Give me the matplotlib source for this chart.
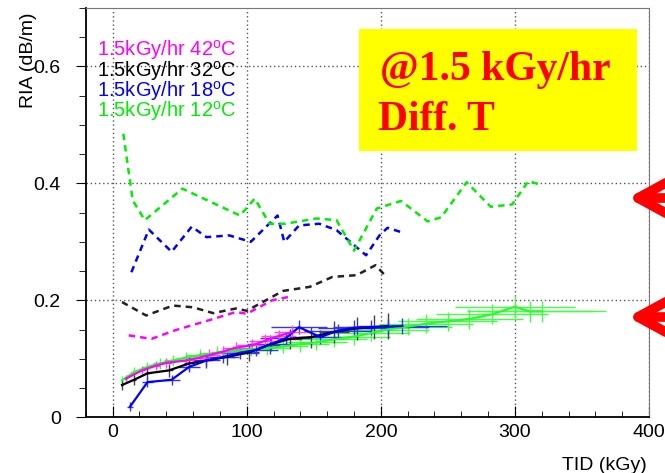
import numpy as np
import matplotlib
matplotlib.use('Agg')
import matplotlib.pyplot as plt
from matplotlib.patches import Rectangle

# dashed curves (no error bars)
x_42d = [12, 29, 47, 72, 92, 100, 119, 134]
y_42d = [0.140, 0.134, 0.149, 0.166, 0.180, 0.177, 0.200, 0.207]

x_32d = [7, 25, 45, 60, 75, 92, 100, 127, 147, 164, 182, 196, 203]
y_32d = [0.197, 0.174, 0.191, 0.188, 0.178, 0.186, 0.182, 0.216, 0.223, 0.240, 0.243, 0.260, 0.243]

x_18d = [14, 27, 44, 59, 70, 87, 103, 123, 128, 139, 154, 167, 189, 199, 205, 216]
y_18d = [0.248, 0.321, 0.283, 0.326, 0.308, 0.311, 0.300, 0.345, 0.300, 0.328, 0.331, 0.320, 0.277, 0.311, 0.324, 0.316]

x_12d = [8, 15, 24, 52, 95, 106, 117, 129, 152, 167, 180, 197, 215, 235, 245, 264, 282, 298, 310, 320]
y_12d = [0.485, 0.371, 0.337, 0.391, 0.345, 0.374, 0.331, 0.331, 0.340, 0.337, 0.285, 0.357, 0.370,
         0.335, 0.342, 0.402, 0.360, 0.364, 0.404, 0.397]

# solid curves with errors
x_12 = [7, 16, 26, 35, 45, 55, 65, 78, 90, 103, 115, 127, 140, 152, 165, 180, 193, 205, 220, 234, 250, 266, 283, 300, 311, 320]
y_12 = [0.063, 0.077, 0.086, 0.092, 0.097, 0.102, 0.106, 0.110, 0.113, 0.116, 0.118, 0.121, 0.125, 0.128,
        0.133, 0.138, 0.144, 0.150, 0.155, 0.160, 0.164, 0.168, 0.176, 0.189, 0.181, 0.181]
xe_12 = [1, 2.5, 4, 5, 7, 8, 10, 12, 13, 15, 17, 19, 21, 23, 25, 27, 29, 31, 33, 35, 37, 40, 42, 45, 47, 48]
ye_12 = [0.008, 0.009, 0.009, 0.010, 0.010, 0.010, 0.011, 0.011, 0.011, 0.012, 0.012, 0.012, 0.013, 0.013,
         0.013, 0.014, 0.014, 0.015, 0.015, 0.016, 0.016, 0.017, 0.017, 0.019, 0.018, 0.018]

x_32 = [7, 16, 26, 42, 57, 70, 85, 102, 117, 132, 148, 165, 182, 195, 205]
y_32 = [0.055, 0.064, 0.075, 0.080, 0.092, 0.097, 0.103, 0.111, 0.124, 0.134, 0.137, 0.146, 0.152, 0.154, 0.156]
xe_32 = [1, 1.5, 2, 3, 4, 5, 6, 7, 8, 9, 10, 11, 12, 13, 14]
ye_32 = [0.008, 0.009, 0.010, 0.011, 0.012, 0.013, 0.014, 0.015, 0.016, 0.017, 0.018, 0.019, 0.020, 0.021, 0.022]

x_18 = [13, 26, 44, 57, 70, 82, 95, 107, 118, 129, 139, 155, 168, 180, 193, 205, 216]
y_18 = [0.018, 0.060, 0.064, 0.086, 0.097, 0.103, 0.110, 0.115, 0.125, 0.135, 0.154, 0.137, 0.148, 0.153,
        0.154, 0.155, 0.156]
xe_18 = [2, 4, 6, 8, 10, 12, 14, 16, 18, 19, 21, 23, 25, 27, 29, 31, 33]
ye_18 = [0.008, 0.008, 0.009, 0.009, 0.010, 0.010, 0.010, 0.011, 0.011, 0.011, 0.012, 0.012, 0.012, 0.013,
         0.013, 0.013, 0.014]

x_42 = [10, 22, 32, 40, 55, 65, 72, 82, 92, 104, 114, 124, 134]
y_42 = [0.066, 0.080, 0.088, 0.093, 0.097, 0.102, 0.106, 0.112, 0.119, 0.123, 0.131, 0.139, 0.146]
xe_42 = [1, 2, 3, 4, 6, 7, 8, 9, 10, 11, 12, 13, 14]
ye_42 = [0.007, 0.008, 0.008, 0.009, 0.009, 0.009, 0.010, 0.010, 0.010, 0.011, 0.011, 0.011, 0.012]

labels = [r'1.5kGy/hr 42$^{\rm o}$C', r'1.5kGy/hr 32$^{\rm o}$C',
          r'1.5kGy/hr 18$^{\rm o}$C', r'1.5kGy/hr 12$^{\rm o}$C']
cols = ['#ff00ff', '#000000', '#0000ff', '#00ee00']

plt.rcParams['font.family'] = ['Liberation Sans', 'DejaVu Sans']
plt.rcParams['mathtext.fontset'] = 'custom'
plt.rcParams['mathtext.rm'] = 'Liberation Sans'

fig = plt.figure(figsize=(6.65, 4.73), dpi=100)
ax = fig.add_axes([0.129, 0.118, 0.847, 0.865])

dash = (0, (2.6, 2.0))
ax.plot(x_42d, y_42d, color=cols[0], lw=1.8, ls=dash)
ax.plot(x_32d, y_32d, color='#222222', lw=1.8, ls=dash)
ax.plot(x_18d, y_18d, color=cols[2], lw=1.8, ls=dash)
ax.plot(x_12d, y_12d, color=cols[3], lw=1.8, ls=dash)

ax.errorbar(x_12, y_12, xerr=xe_12, yerr=ye_12, color='#22ff22', ecolor='#44ff44', elinewidth=1, lw=1.6, capsize=0)
ax.errorbar(x_32, y_32, xerr=xe_32, yerr=ye_32, color='#000000', ecolor='#444444', elinewidth=1, lw=1.6, capsize=0)
ax.errorbar(x_18, y_18, xerr=xe_18, yerr=ye_18, color='#0000ff', ecolor='#3333ff', elinewidth=1, lw=1.6, capsize=0)
ax.errorbar(x_42, y_42, xerr=xe_42, yerr=ye_42, color='#ff00ff', ecolor='#ff44ff', elinewidth=1, lw=1.6, capsize=0)

# coloured legend text
for i, (lab, c) in enumerate(zip(labels, cols)):
    fig.text(97 / 665, 1 - (56 + 20.3 * i) / 473, lab, color=c, fontsize=14.5, va='baseline')

ax.set_xlim(-20, 400)
ax.set_ylim(0, 0.7)
ax.set_xticks([0, 100, 200, 300, 400])
ax.set_xticks(np.arange(-20, 401, 20), minor=True)
ax.set_yticks([0, 0.2, 0.4, 0.6])
ax.set_yticks(np.arange(0, 0.71, 0.05), minor=True)
ax.set_yticklabels(['0', '0.2', '0.4', '0.6'])
ax.grid(True, which='major', color='#555555', ls=(0, (1, 2)), lw=1)
ax.tick_params(axis='x', which='both', direction='in', labelsize=14, pad=5)
ax.tick_params(axis='x', which='major', length=8)
ax.tick_params(axis='x', which='minor', length=4)
ax.tick_params(axis='y', which='both', direction='out', labelsize=14, pad=11)
ax.tick_params(axis='y', which='major', length=7)
ax.tick_params(axis='y', which='minor', length=5)
for s in ['top', 'right']:
    ax.spines[s].set_color('#777777')
for s in ['left', 'bottom']:
    ax.spines[s].set_linewidth(1.3)

ax.set_xlabel('TID (kGy)', fontsize=14, loc='right')
ax.xaxis.set_label_coords(0.996, -0.098)
ax.set_ylabel('RIA (dB/m)', fontsize=14, loc='top')
ax.yaxis.set_label_coords(-0.087, 0.99)

# yellow label box
fig.patches.append(Rectangle((0.540, 0.681), 0.418, 0.258, transform=fig.transFigure,
                             facecolor='#ffff00', edgecolor='none', zorder=5))
fig.text(0.571, 0.831, '@1.5 kGy/hr', family='Liberation Serif', weight='bold',
         fontsize=30, color='#ff0000', zorder=6)
fig.text(0.568, 0.725, 'Diff. T', family='Liberation Serif', weight='bold',
         fontsize=30, color='#ff0000', zorder=6)

# red arrows at the right edge
for ya in [1 - 198 / 473, 1 - 317 / 473]:
    ax.annotate('', xy=(628 / 665, ya), xytext=(1.08, ya), xycoords='figure fraction',
                textcoords='figure fraction', annotation_clip=False,
                arrowprops=dict(arrowstyle='->,head_length=1.1,head_width=0.6', lw=7,
                                color='#ff0000', mutation_scale=20, shrinkA=0, shrinkB=0,
                                capstyle='round', joinstyle='round'))

fig.savefig('out.png', dpi=100)
